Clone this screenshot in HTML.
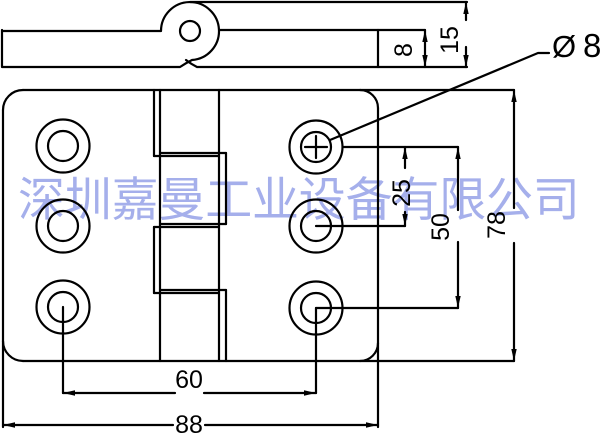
<!DOCTYPE html>
<html>
<head>
<meta charset="utf-8">
<style>
  html, body { margin: 0; padding: 0; background: #fff; }
  body { width: 600px; height: 434px; overflow: hidden; }
  svg { display: block; }
  .wm { font-family: "Liberation Sans", "Noto Sans CJK SC", sans-serif; font-size: 47px; fill: rgb(165,175,235); }
  .dim { font-family: "Liberation Sans", sans-serif; font-size: 25px; fill: #000; }
</style>
</head>
<body>
<svg width="600" height="434" viewBox="0 0 600 434" xmlns="http://www.w3.org/2000/svg">
  <!-- watermark -->
  <text class="wm" y="216" x="18 64.8 111.6 158.4 205.2 252 298.8 345.6 392.4 439.2 486 532.8">深圳嘉曼工业设备有限公司</text>

  <g fill="none" stroke="#000" stroke-width="2.2" stroke-linecap="round" stroke-linejoin="round">
    <!-- ===== Top view ===== -->
    <path d="M2,30 L2,67 L180,67 Q186,63 192,60 A29,29 0 1 0 161,31 L2,31"/>
    <path d="M467,67 L197,67 Q191,64 186,60"/>
    <circle cx="190" cy="31" r="10"/>
    <line x1="190" y1="2" x2="467" y2="2"/>
    <line x1="219" y1="30" x2="425" y2="30"/>
    <line x1="378" y1="30" x2="378" y2="67"/>
    <!-- dim 8 -->
    <line x1="425" y1="30" x2="425" y2="67"/>
    <!-- dim 15 -->
    <line x1="466" y1="2" x2="466" y2="20"/>
    <line x1="466" y1="47" x2="466" y2="67"/>

    <!-- ===== Plate ===== -->
    <path d="M3,110 A20,20 0 0 1 23,90"/>
    <line x1="23" y1="90" x2="514" y2="90"/>
    <path d="M360,90 A18,18 0 0 1 378,108"/>
    <line x1="378" y1="108" x2="378" y2="427"/>
    <path d="M378,343 A18,18 0 0 1 360,361"/>
    <line x1="23" y1="361" x2="514" y2="361"/>
    <path d="M23,361 A20,20 0 0 1 3,341"/>
    <line x1="3" y1="110" x2="3" y2="427"/>

    <!-- knuckles -->
    <line x1="160" y1="90" x2="160" y2="361"/>
    <line x1="219" y1="90" x2="219" y2="361"/>
    <line x1="154" y1="90" x2="154" y2="156"/>
    <line x1="154" y1="227" x2="154" y2="293"/>
    <line x1="226" y1="153" x2="226" y2="224"/>
    <line x1="226" y1="290" x2="226" y2="361"/>
    <line x1="154" y1="156" x2="219" y2="156"/>
    <line x1="160" y1="153" x2="226" y2="153"/>
    <line x1="160" y1="224" x2="226" y2="224"/>
    <line x1="154" y1="227" x2="219" y2="227"/>
    <line x1="154" y1="293" x2="219" y2="293"/>
    <line x1="160" y1="290" x2="226" y2="290"/>

    <!-- holes -->
    <circle cx="63" cy="146" r="26.5"/><circle cx="63" cy="146" r="15"/>
    <circle cx="63" cy="226" r="26.5"/><circle cx="63" cy="226" r="15"/>
    <circle cx="63" cy="307" r="26.5"/><circle cx="63" cy="307" r="15"/>
    <circle cx="316" cy="147" r="26.5"/><circle cx="316" cy="147" r="15"/>
    <circle cx="316" cy="226" r="26.5"/><circle cx="316" cy="226" r="15"/>
    <circle cx="316" cy="308" r="26.5"/><circle cx="316" cy="308" r="15"/>
    <line x1="316" y1="136" x2="316" y2="158"/>
    <line x1="305" y1="147" x2="327" y2="147"/>

    <!-- leader phi 8 -->
    <polyline points="330,140 538,53 549,53"/>

    <!-- dim 25 / 50 extension lines -->
    <line x1="343" y1="147" x2="458" y2="147"/>
    <line x1="316" y1="226" x2="405" y2="226"/>
    <line x1="316" y1="308" x2="458" y2="308"/>
    <line x1="405" y1="147" x2="405" y2="168"/>
    <line x1="405" y1="212" x2="405" y2="226"/>
    <line x1="458" y1="147" x2="458" y2="210"/>
    <line x1="458" y1="242" x2="458" y2="308"/>
    <!-- dim 78 -->
    <line x1="514" y1="90" x2="514" y2="208"/>
    <line x1="514" y1="243" x2="514" y2="361"/>
    <!-- dim 60 -->
    <line x1="63" y1="307" x2="63" y2="393"/>
    <line x1="316" y1="308" x2="316" y2="393"/>
    <line x1="63" y1="393" x2="175" y2="393"/>
    <line x1="204" y1="393" x2="316" y2="393"/>
    <!-- dim 88 -->
    <line x1="3" y1="425" x2="173" y2="425"/>
    <line x1="205" y1="425" x2="378" y2="425"/>
  </g>

  <!-- arrowheads -->
  <g fill="#000" stroke="none">
    <polygon points="425,30 422.3,42 427.7,42"/>
    <polygon points="425,67 422.3,55 427.7,55"/>
    <polygon points="466,2 463.3,14 468.7,14"/>
    <polygon points="466,67 463.3,55 468.7,55"/>
    <polygon points="405,147 402.3,159 407.7,159"/>
    <polygon points="405,226 402.3,214 407.7,214"/>
    <polygon points="458,147 455.3,159 460.7,159"/>
    <polygon points="458,308 455.3,296 460.7,296"/>
    <polygon points="514,90 511.3,102 516.7,102"/>
    <polygon points="514,361 511.3,349 516.7,349"/>
    <polygon points="63,393 75,390.3 75,395.7"/>
    <polygon points="316,393 304,390.3 304,395.7"/>
    <polygon points="3,425 15,422.3 15,427.7"/>
    <polygon points="378,425 366,422.3 366,427.7"/>
  </g>

  <!-- dimension text -->
  <text class="dim" text-anchor="middle" transform="translate(403,50) rotate(-90)" y="9">8</text>
  <text class="dim" text-anchor="middle" transform="translate(449,40) rotate(-90)" y="9">15</text>
  <text class="dim" text-anchor="middle" transform="translate(401,193) rotate(-90)" y="9">25</text>
  <text class="dim" text-anchor="middle" transform="translate(440,227) rotate(-90)" y="9">50</text>
  <text class="dim" text-anchor="middle" transform="translate(496,225) rotate(-90)" y="9">78</text>
  <text class="dim" text-anchor="middle" x="189" y="388">60</text>
  <text class="dim" text-anchor="middle" x="189" y="433">88</text>
  <text x="552" y="57" style="font-family:'Liberation Sans',sans-serif;font-size:31px;fill:#000;">Ø</text>
  <text x="583" y="57" style="font-family:'Liberation Sans',sans-serif;font-size:33px;fill:#000;">8</text>
</svg>
</body>
</html>
